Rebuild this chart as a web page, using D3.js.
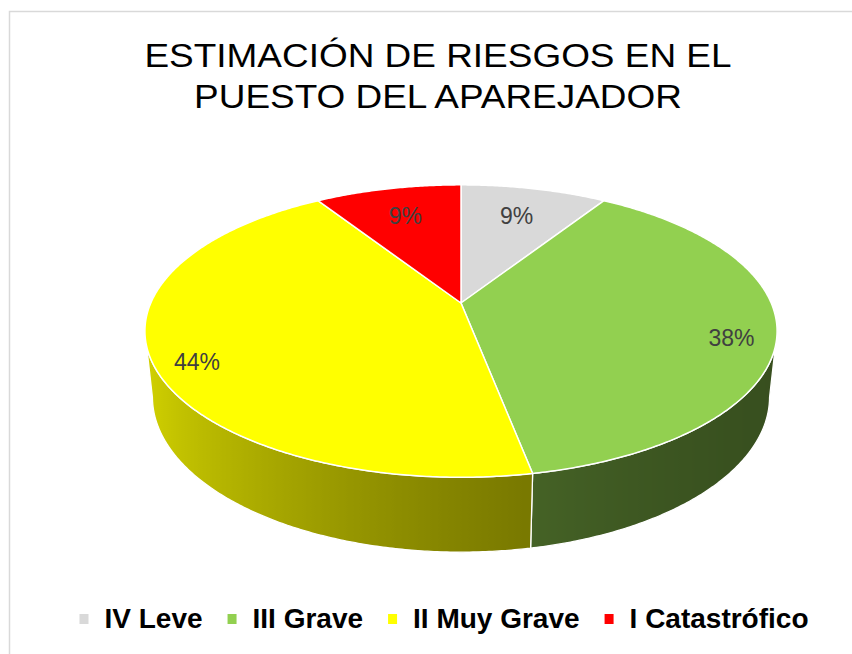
<!DOCTYPE html>
<html>
<head>
<meta charset="utf-8">
<script src="https://cdn.jsdelivr.net/npm/d3@7"></script>
<style>
  body { margin: 0; background: #fff; }
  svg { display: block; font-family: "Liberation Sans", Arial, sans-serif; }
</style>
</head>
<body>
<svg width="852" height="654"></svg>
<script>
const categories = ["IV Leve", "III Grave", "II Muy Grave", "I Catastrófico"];
const shares = [9, 38, 44, 9];
const labels = ["9%", "38%", "44%", "9%"];
const colors = ["#d9d9d9", "#92d050", "#ffff00", "#ff0000"];
const titleLines = ["ESTIMACIÓN DE RIESGOS EN EL", "PUESTO DEL APAREJADOR"];

const svg = d3.select("svg");

// chart area border (runs off the right and bottom of the picture)
svg.append("rect")
  .attr("x", 9.5).attr("y", 11.5)
  .attr("width", 900).attr("height", 700)
  .attr("fill", "none")
  .attr("stroke", "#d9d9d9")
  .attr("stroke-width", 1.5);

// title
const title = svg.append("g")
  .attr("transform", "translate(438,0) scale(1.12,1)");
title.selectAll("text")
  .data(titleLines)
  .enter().append("text")
  .attr("x", 0)
  .attr("y", (d, i) => 67 + i * 41)
  .attr("text-anchor", "middle")
  .attr("font-size", 33)
  .attr("fill", "#000")
  .text(d => d);

// 3D projection of the pie disc
const cx = 461, cy = 303;
const tilt = 27 * Math.PI / 180;
const sn = Math.sin(tilt), cs = Math.cos(tilt);
const dist = 5.21 * cs;
const focal = 1440;
const depth = 0.24;

function project(a, r, y) {
  const X = r * Math.sin(a), Z = r * Math.cos(a);
  const v = Z * sn + y * cs;
  const w = dist + Z * cs - y * sn;
  return [cx + focal * X / w, cy - focal * v / w];
}

const pie = d3.pie().sort(null).value(d => d);
const arcs = pie(shares);

const step = Math.PI / 360;
function arcAngles(a0, a1) {
  const n = Math.max(2, Math.ceil((a1 - a0) / step));
  return d3.range(n + 1).map(i => a0 + (a1 - a0) * i / n);
}

const line = d3.line().curve(d3.curveLinearClosed);

// visible part of the outer wall
const frontMin = Math.acos(-cs / dist);
const frontMax = 2 * Math.PI - frontMin;
const xLeft = project(frontMax, 1, 0)[0];
const xRight = project(frontMin, 1, 0)[0];

function shade(base, a) {
  const k = 0.38 + 0.46 * Math.pow((1 - Math.sin(a)) / 2, 1.8);
  const c = d3.rgb(base);
  return d3.rgb(c.r * k, c.g * k, c.b * k).formatHex();
}

const defs = svg.append("defs");
const gWalls = svg.append("g");
const gTops = svg.append("g");

arcs.forEach((d, i) => {
  const a0 = Math.max(d.startAngle, frontMin);
  const a1 = Math.min(d.endAngle, frontMax);
  if (a1 <= a0) return;
  const angs = arcAngles(a0, a1);

  const grad = defs.append("linearGradient")
    .attr("id", "wall" + i)
    .attr("gradientUnits", "userSpaceOnUse")
    .attr("x1", xLeft).attr("x2", xRight)
    .attr("y1", 0).attr("y2", 0);
  angs.slice().reverse().forEach(a => {
    grad.append("stop")
      .attr("offset", (project(a, 1, 0)[0] - xLeft) / (xRight - xLeft))
      .attr("stop-color", shade(colors[i], a));
  });

  const pts = angs.map(a => project(a, 1, 0))
    .concat(angs.slice().reverse().map(a => project(a, 1, -depth)));
  gWalls.append("path")
    .attr("d", line(pts))
    .attr("fill", `url(#wall${i})`)
    .attr("stroke", "#fff")
    .attr("stroke-width", 1.3)
    .attr("stroke-linejoin", "round");
});

arcs.forEach((d, i) => {
  const pts = [project(0, 0, 0)].concat(arcAngles(d.startAngle, d.endAngle).map(a => project(a, 1, 0)));
  gTops.append("path")
    .attr("d", line(pts))
    .attr("fill", colors[i])
    .attr("stroke", "#fff")
    .attr("stroke-width", 1.5)
    .attr("stroke-linejoin", "round");
});

// data labels
svg.append("g").selectAll("text")
  .data(arcs)
  .enter().append("text")
  .attr("transform", d => {
    const mid = (d.startAngle + d.endAngle) / 2;
    const small = d.value < 15;
    const p = project(mid, small ? 0.73 : 0.86, 0);
    return `translate(${p[0]},${p[1] + (small ? 0 : 11)})`;
  })
  .attr("text-anchor", "middle")
  .attr("dy", "0.36em")
  .attr("font-size", 23)
  .attr("fill", "#404040")
  .text((d, i) => labels[i]);

// legend
const legend = svg.append("g");
const items = legend.selectAll("g")
  .data(categories)
  .enter().append("g");
items.append("rect")
  .attr("width", 9).attr("height", 10)
  .attr("y", 614)
  .attr("fill", (d, i) => colors[i]);
items.append("text")
  .attr("x", 25)
  .attr("y", 628)
  .attr("font-size", 28)
  .attr("font-weight", "bold")
  .attr("fill", "#000")
  .text(d => d);

const itemGap = 25;
let xPos = 0;
items.each(function () {
  const g = d3.select(this);
  g.attr("transform", `translate(${xPos},0)`);
  xPos += 25 + g.select("text").node().getComputedTextLength() + itemGap;
});
const legendWidth = xPos - itemGap;
legend.attr("transform", `translate(${444 - legendWidth / 2},0)`);
</script>
</body>
</html>
